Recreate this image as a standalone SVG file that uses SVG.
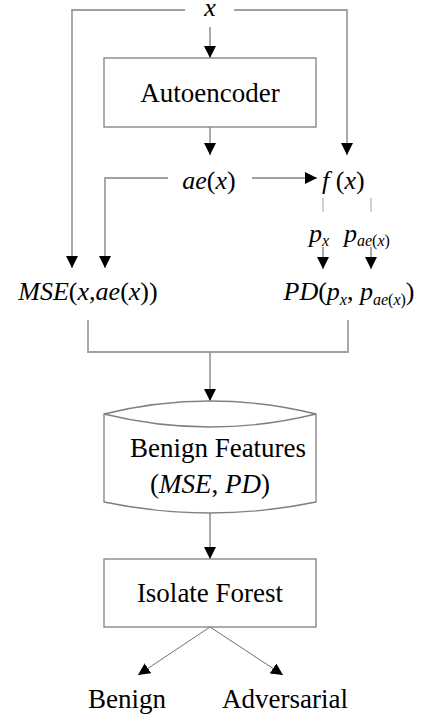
<svg xmlns="http://www.w3.org/2000/svg" width="424" height="715" viewBox="0 0 424 715" font-family="'Liberation Serif', 'DejaVu Serif', serif">
<style>
text{font-family:'Liberation Serif','DejaVu Serif',serif;fill:#000}
.lbl{font-size:27px;text-anchor:middle}
.m{font-size:26px}
.i{font-style:italic}
.sub{font-size:16px;font-style:italic}
.box{fill:#fff;stroke:#808080;stroke-width:1.3}
.ln{fill:none;stroke:#a0a0a0;stroke-width:1.8}
.dg{fill:none;stroke:#707070;stroke-width:1}
</style>
<defs>
<marker id="ah" markerUnits="userSpaceOnUse" markerWidth="12" markerHeight="12" refX="12" refY="6" orient="auto" viewBox="0 0 12 12">
<path d="M0,0 L12,6 L0,12 z" fill="#000"/>
</marker>
</defs>
<g id="connectors">
<polyline class="ln" points="185,10 72,10 72,268" marker-end="url(#ah)"/>
<polyline class="ln" points="234,10 347,10 347,155" marker-end="url(#ah)"/>
<line class="ln" x1="210" y1="27" x2="210" y2="58" marker-end="url(#ah)"/>
<line class="ln" x1="210" y1="127" x2="210" y2="155" marker-end="url(#ah)"/>
<polyline class="ln" points="168,178 105,178 105,268" marker-end="url(#ah)"/>
<line class="ln" x1="252" y1="178" x2="317" y2="178" marker-end="url(#ah)"/>
<line class="ln" x1="323" y1="198" x2="323" y2="212" style="stroke-width:1"/>
<line class="ln" x1="371" y1="198" x2="371" y2="212" style="stroke-width:1"/>
<line class="ln" x1="323" y1="247" x2="323" y2="269" marker-end="url(#ah)"/>
<line class="ln" x1="371" y1="247" x2="371" y2="269" marker-end="url(#ah)"/>
<polyline class="ln" points="88,320 88,352 348,352 348,320"/>
<line class="ln" x1="210" y1="352" x2="210" y2="401" marker-end="url(#ah)"/>
<line class="ln" x1="210" y1="513" x2="210" y2="559" marker-end="url(#ah)"/>
<line class="dg" x1="210" y1="627" x2="138" y2="675" marker-end="url(#ah)"/>
<line class="dg" x1="210" y1="627" x2="283" y2="675" marker-end="url(#ah)"/>
</g>
<g id="x">
<text class="m i" x="210" y="16" text-anchor="middle">x</text>
</g>
<g id="autoencoder">
<rect class="box" x="104" y="58" width="212" height="69"/>
<text class="lbl" x="210" y="102">Autoencoder</text>
</g>
<g id="aex">
<text class="m" x="209" y="189" text-anchor="middle"><tspan class="i">ae</tspan>(<tspan class="i">x</tspan>)</text>
</g>
<g id="fx">
<text class="m" x="322" y="189"><tspan class="i">f</tspan> (<tspan class="i">x</tspan>)</text>
</g>
<g id="probs">
<text class="m" x="309" y="242"><tspan class="i">p</tspan><tspan class="sub" dy="4">x</tspan></text>
<text class="m" x="344" y="242"><tspan class="i">p</tspan><tspan class="sub" dy="4">ae</tspan><tspan font-size="16" font-style="normal">(</tspan><tspan class="sub">x</tspan><tspan font-size="16" font-style="normal">)</tspan></text>
</g>
<g id="mse">
<text class="m" x="88" y="300" text-anchor="middle"><tspan class="i">MSE</tspan>(<tspan class="i">x</tspan>,<tspan class="i">ae</tspan>(<tspan class="i">x</tspan>))</text>
</g>
<g id="pd">
<text class="m" x="349" y="300" text-anchor="middle"><tspan class="i">PD</tspan>(<tspan class="i">p</tspan><tspan class="sub" dy="5">x</tspan><tspan dy="-5">, </tspan><tspan class="i">p</tspan><tspan class="sub" dy="5">ae</tspan><tspan font-size="16" font-style="normal">(</tspan><tspan class="sub">x</tspan><tspan font-size="16" font-style="normal">)</tspan><tspan dy="-5">)</tspan></text>
</g>
<g id="benign-features">
<path class="box" d="M104,414 Q210,388 316,414 L316,502 Q210,524 104,502 Z"/>
<path class="box" d="M104,414 Q210,440 316,414" fill="none"/>
<text class="lbl" x="218" y="457">Benign Features</text>
<text class="lbl" x="210" y="493">(<tspan class="i">MSE</tspan>, <tspan class="i">PD</tspan>)</text>
</g>
<g id="isolate-forest">
<rect class="box" x="104" y="559" width="212" height="68"/>
<text class="lbl" x="210" y="602">Isolate Forest</text>
</g>
<g id="benign">
<text class="lbl" x="127" y="708">Benign</text>
</g>
<g id="adversarial">
<text class="lbl" x="285" y="708">Adversarial</text>
</g>
</svg>
